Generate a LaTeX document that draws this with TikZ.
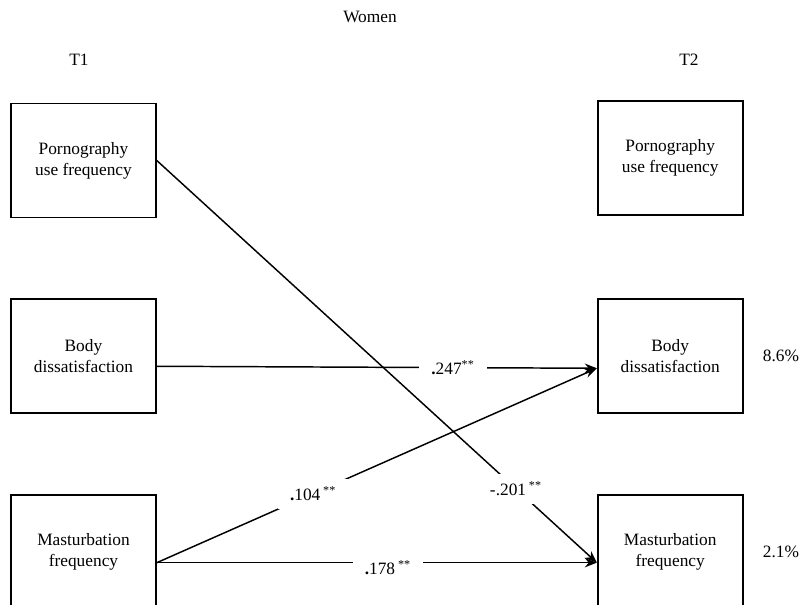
\documentclass[tikz,border=0pt]{standalone}
\usepackage{fontspec}
\setmainfont{Liberation Serif}
\usetikzlibrary{arrows.meta, positioning}

\begin{document}
\begin{tikzpicture}[
    var/.style={draw, line width=1.3pt, minimum width=108.75pt, minimum height=85.5pt, align=center, inner sep=2pt},
    effect/.style={-{Stealth[length=9pt, width=7pt]}, line width=1.1pt},
    coef/.style={fill=white, inner sep=6pt},
    node distance=60pt and 330pt,
    font=\fontsize{13}{15.75}\selectfont
]
\useasboundingbox (0,0) rectangle (600pt,-453pt);

\node (women) at (277.5pt,-12.75pt) {Women};
\node (t1) at (59.25pt,-45pt) {T1};
\node (t2) at (516.75pt,-45pt) {T2};

\node[var] (pornL) at (62.6pt,-120.4pt) {Pornography\\use frequency};
\node[var, below=of pornL] (bodyL) {Body\\dissatisfaction};
\node[var, below=of bodyL] (mastL) {Masturbation\\frequency};

\node[var, right=of pornL, yshift=2pt] (pornR) {Pornography\\use frequency};
\node[var, right=of bodyL] (bodyR) {Body\\dissatisfaction};
\node[var, right=of mastL] (mastR) {Masturbation\\frequency};

\node[right=11pt of bodyR] (r2body) {8.6\%};
\node[right=11pt of mastR] (r2mast) {2.1\%};

\draw[effect] (pornL.east) -- node[coef, pos=0.816] {-.201\,\textsuperscript{**}} ([yshift=-8pt]mastR.west);
\draw[effect] ([yshift=-7.5pt]bodyL.east) -- node[coef, inner xsep=9pt, pos=0.673] {\textbf{.}247\textsuperscript{**}} ([yshift=-9pt]bodyR.west);
\draw[effect] ([yshift=-8pt]mastL.east) -- node[coef, inner xsep=9pt, pos=0.355] {\textbf{.}104\,\textsuperscript{**}} ([yshift=-9pt]bodyR.west);
\draw[effect] ([yshift=-8pt]mastL.east) -- node[coef, inner xsep=9pt, pos=0.525, yshift=-4pt] {\textbf{.}178\,\textsuperscript{**}} ([yshift=-8pt]mastR.west);

\end{tikzpicture}
\end{document}
